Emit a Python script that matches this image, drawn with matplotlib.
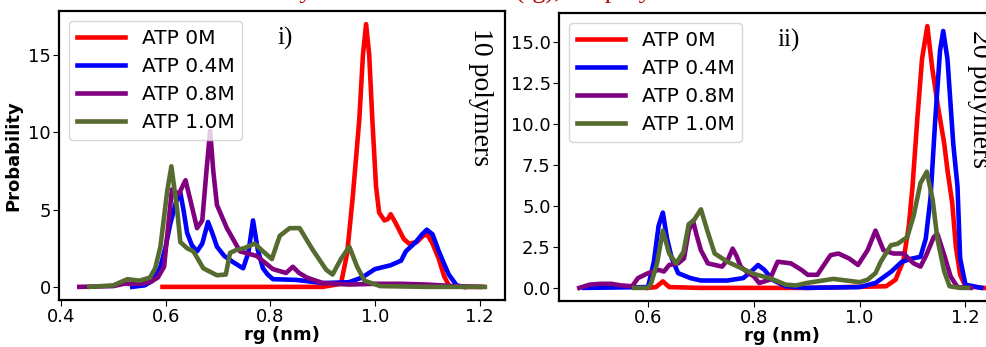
import numpy as np
import matplotlib.pyplot as plt

# Panel i) 10 polymers, rg (nm) vs probability
p1_red_x = [0.594, 0.90, 0.935, 0.947, 0.958, 0.970, 0.977, 0.983, 0.989, 0.995, 1.002, 1.008, 1.018, 1.025, 1.030, 1.040,
            1.055, 1.065, 1.080, 1.092, 1.100, 1.110, 1.122, 1.132, 1.142, 1.17, 1.205]
p1_red_y = [0.0, 0.0, 0.2, 2.2, 6.0, 10.8, 15.0, 17.0, 15.0, 10.8, 6.5, 4.8, 4.3, 4.4, 4.7, 4.1,
            3.1, 2.8, 2.9, 3.3, 3.4, 2.8, 1.8, 0.7, 0.05, 0.0, 0.0]

p1_blue_x = [0.536, 0.56, 0.575, 0.590, 0.600, 0.609, 0.620, 0.628, 0.634, 0.641, 0.650, 0.660, 0.670, 0.681, 0.690,
             0.698, 0.712, 0.729, 0.748, 0.758, 0.767, 0.776, 0.786, 0.795, 0.805, 0.85, 0.90, 0.95, 0.975, 1.0,
             1.03, 1.05, 1.059, 1.078, 1.090, 1.099, 1.110, 1.122, 1.132, 1.141, 1.156, 1.17]
p1_blue_y = [0.0, 0.1, 0.4, 1.3, 2.6, 4.1, 5.5, 6.1, 5.0, 3.5, 2.7, 2.3, 2.8, 4.2, 3.4,
             2.6, 2.0, 1.6, 1.2, 2.2, 4.3, 2.4, 1.2, 0.8, 0.5, 0.45, 0.25, 0.3, 0.6, 1.15,
             1.4, 1.7, 2.3, 2.9, 3.4, 3.7, 3.4, 2.3, 1.5, 0.8, 0.1, 0.0]

p1_purple_x = [0.435, 0.50, 0.52, 0.55, 0.57, 0.585, 0.597, 0.605, 0.612, 0.625, 0.638, 0.648, 0.660, 0.670, 0.678,
               0.685, 0.691, 0.698, 0.717, 0.742, 0.774, 0.805, 0.830, 0.843, 0.855, 0.870, 0.90, 0.95, 1.0, 1.05,
               1.10, 1.15, 1.20]
p1_purple_y = [0.0, 0.05, 0.2, 0.2, 0.3, 0.6, 1.3, 4.0, 6.3, 6.0, 6.9, 5.5, 3.8, 4.3, 7.5,
               10.1, 7.5, 5.3, 3.8, 2.3, 2.0, 1.15, 0.9, 1.3, 0.9, 0.6, 0.25, 0.15, 0.2, 0.2,
               0.15, 0.05, 0.0]

p1_green_x = [0.454, 0.50, 0.527, 0.55, 0.57, 0.580, 0.590, 0.603, 0.611, 0.622, 0.628, 0.641, 0.653, 0.672, 0.698,
              0.715, 0.723, 0.736, 0.750, 0.770, 0.786, 0.803, 0.818, 0.837, 0.856, 0.881, 0.907, 0.919, 0.935,
              0.951, 0.966, 0.980, 1.010, 1.10, 1.21]
p1_green_y = [0.0, 0.1, 0.5, 0.4, 0.6, 1.2, 2.6, 6.2, 7.8, 5.0, 2.9, 2.5, 2.3, 1.2, 0.75,
              0.8, 2.2, 2.4, 2.5, 2.8, 2.3, 1.8, 3.3, 3.8, 3.8, 2.4, 1.1, 0.8, 1.8,
              2.6, 1.3, 0.4, 0.05, 0.0, 0.0]

# Panel ii) 20 polymers
p2_red_x = [0.60, 0.615, 0.628, 0.640, 0.70, 0.90, 1.05, 1.068, 1.083, 1.093, 1.100, 1.109, 1.118, 1.128, 1.137,
            1.147, 1.160, 1.166, 1.175, 1.182, 1.190, 1.200, 1.235]
p2_red_y = [0.0, 0.05, 0.4, 0.05, 0.0, 0.0, 0.1, 0.5, 1.7, 3.8, 6.2, 10.3, 14.0, 16.0, 13.5,
            11.3, 8.8, 7.2, 5.2, 2.5, 0.8, 0.1, 0.0]

p2_blue_x = [0.479, 0.60, 0.611, 0.620, 0.628, 0.636, 0.645, 0.657, 0.68, 0.70, 0.75, 0.78, 0.795, 0.808, 0.820,
             0.835, 0.86, 0.90, 1.00, 1.03, 1.06, 1.08, 1.10, 1.115, 1.125, 1.134, 1.143, 1.152, 1.158, 1.166,
             1.177, 1.185, 1.190, 1.200, 1.230]
p2_blue_y = [0.0, 0.05, 1.6, 3.8, 4.6, 3.0, 1.8, 0.9, 0.6, 0.45, 0.45, 0.6, 1.0, 1.4, 1.1,
             0.5, 0.1, 0.0, 0.05, 0.3, 1.0, 1.6, 1.8, 1.9, 3.0, 5.5, 10.3, 14.5, 15.7, 14.0,
             8.8, 6.2, 1.8, 0.2, 0.0]

p2_purple_x = [0.470, 0.490, 0.51, 0.53, 0.55, 0.57, 0.581, 0.600, 0.620, 0.630, 0.640, 0.657, 0.668, 0.677, 0.685,
               0.692, 0.700, 0.713, 0.740, 0.752, 0.760, 0.768, 0.775, 0.790, 0.800, 0.810, 0.830, 0.845, 0.870,
               0.890, 0.902, 0.920, 0.945, 0.960, 0.980, 0.997, 1.015, 1.030, 1.045, 1.064, 1.083, 1.102, 1.115,
               1.126, 1.140, 1.147, 1.160, 1.172, 1.185, 1.210]
p2_purple_y = [0.0, 0.2, 0.25, 0.25, 0.15, 0.1, 0.6, 0.9, 1.1, 1.0, 1.4, 1.5, 1.8, 3.5, 4.1,
               3.2, 2.3, 1.5, 1.3, 1.8, 2.4, 1.9, 1.3, 0.9, 0.7, 0.3, 0.5, 1.6, 1.5,
               1.1, 0.8, 0.8, 2.0, 2.1, 1.8, 1.4, 2.3, 3.5, 2.3, 2.1, 2.1, 1.5, 1.3,
               2.0, 3.1, 3.3, 2.0, 0.7, 0.05, 0.0]

p2_green_x = [0.574, 0.600, 0.606, 0.617, 0.628, 0.640, 0.653, 0.667, 0.677, 0.686, 0.700, 0.713, 0.726, 0.750, 0.800,
              0.830, 0.860, 0.880, 0.900, 0.950, 1.000, 1.015, 1.030, 1.040, 1.059, 1.072, 1.090, 1.102, 1.115,
              1.127, 1.138, 1.147, 1.160, 1.170, 1.190, 1.205]
p2_green_y = [0.0, 0.0, 0.3, 1.5, 3.5, 2.1, 1.5, 2.2, 3.9, 4.1, 4.8, 3.4, 2.1, 1.6, 0.85,
              0.6, 0.2, 0.15, 0.3, 0.55, 0.35, 0.5, 0.9, 1.6, 2.6, 2.7, 3.1, 4.4, 6.4,
              7.1, 5.4, 3.0, 1.0, 0.1, 0.0, 0.0]

labels = ['ATP 0M', 'ATP 0.4M', 'ATP 0.8M', 'ATP 1.0M']
colors = ['red', 'blue', 'purple', 'darkolivegreen']
panel_tags = ['i)', 'ii)']
panel_notes = ['10 polymers', '20 polymers']

panels = [
    [(p1_red_x, p1_red_y), (p1_blue_x, p1_blue_y), (p1_purple_x, p1_purple_y), (p1_green_x, p1_green_y)],
    [(p2_red_x, p2_red_y), (p2_blue_x, p2_blue_y), (p2_purple_x, p2_purple_y), (p2_green_x, p2_green_y)],
]

fig = plt.figure(figsize=(9.87, 3.47), dpi=100)
# second panel runs past the right edge, like the cropped original
ax1 = fig.add_axes([0.0598, 0.1354, 0.452, 0.833])
ax2 = fig.add_axes([0.5664, 0.1326, 0.451, 0.830])

for i, ax in enumerate([ax1, ax2]):
    for (x, y), lab, c in zip(panels[i], labels, colors):
        ax.plot(x, y, color=c, lw=3.3, label=lab)
    ax.set_xlabel('rg (nm)', fontsize=13, fontweight='bold', labelpad=0)
    ax.tick_params(labelsize=13, length=4, pad=2)
    for sp in ax.spines.values():
        sp.set_linewidth(1.6)
    ax.legend(loc='upper left', fontsize=14.5, handlelength=2.4, labelspacing=0.45)
    ax.text(0.49, 0.905, panel_tags[i], transform=ax.transAxes, fontsize=18,
            family='Liberation Serif', ha='left', va='center')
    ax.text(0.944, 0.94, panel_notes[i], transform=ax.transAxes, fontsize=20,
            family='Liberation Serif', rotation=270, ha='center', va='top')

ax1.set_xticks([0.4, 0.6, 0.8, 1.0, 1.2])
ax1.set_yticks([0, 5, 10, 15])
ax1.set_ylabel('Probability', fontsize=13, fontweight='bold')
ax2.set_xticks([0.6, 0.8, 1.0, 1.2])
ax2.set_yticks([0, 2.5, 5, 7.5, 10, 12.5, 15])

# title sits mostly above the crop, only descenders show
fig.text(0.455, 1.003, 'Probability distribution of the (rg), for polymers', color='#b00000',
         fontsize=19, family='Liberation Serif', ha='center', va='baseline')

fig.savefig('out.png', dpi=100)
